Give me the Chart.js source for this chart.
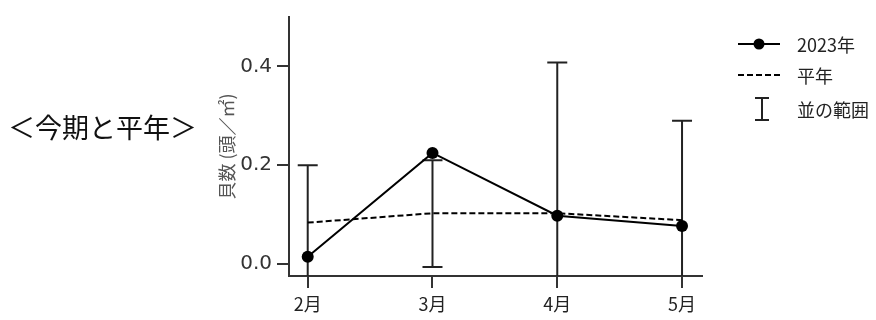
<!DOCTYPE html>
<html lang="ja">
<head>
<meta charset="utf-8">
<script src="https://cdn.jsdelivr.net/npm/chart.js@4/dist/chart.umd.min.js"></script>
<style>
    body { margin: 0; background: #fff; }
    #wrap { position: relative; width: 876px; height: 320px; }
    #title {
        position: absolute; left: 8px; top: 110px;
        font-family: "Noto Sans CJK JP", sans-serif; font-size: 27px;
        letter-spacing: 0px; color: #111; line-height: 34px;
    }
    #legend {
        position: absolute; left: 736px; top: 28px;
        font-family: "Noto Sans CJK JP", sans-serif; font-size: 18px; color: #222;
    }
    .row { display: flex; align-items: center; height: 31px; }
    .row svg { width: 46px; height: 28px; margin-right: 15px; }
</style>
</head>
<body>
<div id="wrap">
    <canvas id="chart" width="876" height="320"></canvas>
    <div id="title">＜今期と平年＞</div>
    <div id="legend">
        <div class="row">
            <svg viewBox="0 0 46 28"><line x1="2" y1="14" x2="44" y2="14" stroke="#000" stroke-width="2"/><circle cx="23" cy="14" r="5.5" fill="#000"/></svg>
            <span>2023年</span>
        </div>
        <div class="row">
            <svg viewBox="0 0 46 28"><line x1="2" y1="14" x2="44" y2="14" stroke="#000" stroke-width="2" stroke-dasharray="6 3"/></svg>
            <span>平年</span>
        </div>
        <div class="row" style="height:38px">
            <svg viewBox="0 0 46 28" style="height:28px"><line x1="26" y1="3" x2="26" y2="25" stroke="#222" stroke-width="2"/><line x1="19" y1="3" x2="33" y2="3" stroke="#222" stroke-width="2"/><line x1="19" y1="25" x2="33" y2="25" stroke="#222" stroke-width="2"/></svg>
            <span>並の範囲</span>
        </div>
    </div>
</div>
<script>
const months = ['2月', '3月', '4月', '5月'];
const current = [0.015, 0.225, 0.098, 0.077];
const normal = [0.084, 0.103, 0.103, 0.089];
const rangeHigh = [0.200, 0.210, 0.408, 0.290];
const rangeLow = [-0.032, -0.006, -0.202, -0.112];
const yTicks = [0, 0.2, 0.4];

const toPoints = arr => arr.map((v, i) => ({ x: i, y: v }));

// whiskers for the normal range, drawn under the lines
const errorBars = {
    id: 'errorBars',
    beforeDatasetsDraw(chart) {
        const { ctx, chartArea, scales: { x, y } } = chart;
        ctx.save();
        ctx.beginPath();
        ctx.rect(chartArea.left, chartArea.top, chartArea.right - chartArea.left, chartArea.bottom - chartArea.top);
        ctx.clip();
        ctx.strokeStyle = '#222';
        ctx.lineWidth = 2;
        months.forEach((m, i) => {
            const px = x.getPixelForValue(i);
            const top = y.getPixelForValue(rangeHigh[i]);
            const bot = y.getPixelForValue(rangeLow[i]);
            ctx.beginPath();
            ctx.moveTo(px, top);
            ctx.lineTo(px, bot);
            ctx.moveTo(px - 10, top);
            ctx.lineTo(px + 10, top);
            ctx.moveTo(px - 10, bot);
            ctx.lineTo(px + 10, bot);
            ctx.stroke();
        });
        ctx.restore();
    }
};

new Chart(document.getElementById('chart'), {
    type: 'line',
    data: {
        datasets: [{
            label: '2023年',
            data: toPoints(current),
            borderColor: '#000',
            backgroundColor: '#000',
            borderWidth: 2,
            pointRadius: 6,
            pointBorderWidth: 0,
            tension: 0
        }, {
            label: '平年',
            data: toPoints(normal),
            borderColor: '#000',
            borderWidth: 2,
            borderDash: [6, 3],
            pointRadius: 0,
            tension: 0
        }]
    },
    options: {
        responsive: false,
        animation: false,
        layout: { padding: { left: 216, top: 13, right: 174, bottom: 0 } },
        plugins: {
            legend: { display: false },
            tooltip: { enabled: false }
        },
        scales: {
            x: {
                type: 'linear',
                min: -0.15,
                max: 3.16,
                afterBuildTicks: s => { s.ticks = months.map((m, i) => ({ value: i })); },
                afterFit: s => { s.height = 44; },
                ticks: {
                    callback: v => months[v],
                    color: '#222',
                    padding: 5,
                    maxRotation: 0,
                    font: { family: '"Noto Sans CJK JP", sans-serif', size: 18 }
                },
                grid: { drawOnChartArea: false, tickLength: 12, color: '#333', lineWidth: 2 },
                border: { color: '#333', width: 2 }
            },
            y: {
                min: -0.024,
                max: 0.5,
                afterBuildTicks: s => { s.ticks = yTicks.map(v => ({ value: v })); },
                afterFit: s => { s.width = 73; },
                ticks: {
                    callback: v => v.toFixed(1),
                    color: '#333',
                    padding: 5,
                    font: { family: '"DejaVu Sans", sans-serif', size: 20 }
                },
                grid: { drawOnChartArea: false, tickLength: 12, color: '#333', lineWidth: 2 },
                border: { color: '#333', width: 2 },
                title: {
                    display: true,
                    text: '貝数 (頭／㎡)',
                    color: '#555',
                    padding: 0,
                    font: { family: '"Noto Sans CJK JP", sans-serif', size: 18 }
                }
            }
        }
    },
    plugins: [errorBars]
});
</script>
</body>
</html>
